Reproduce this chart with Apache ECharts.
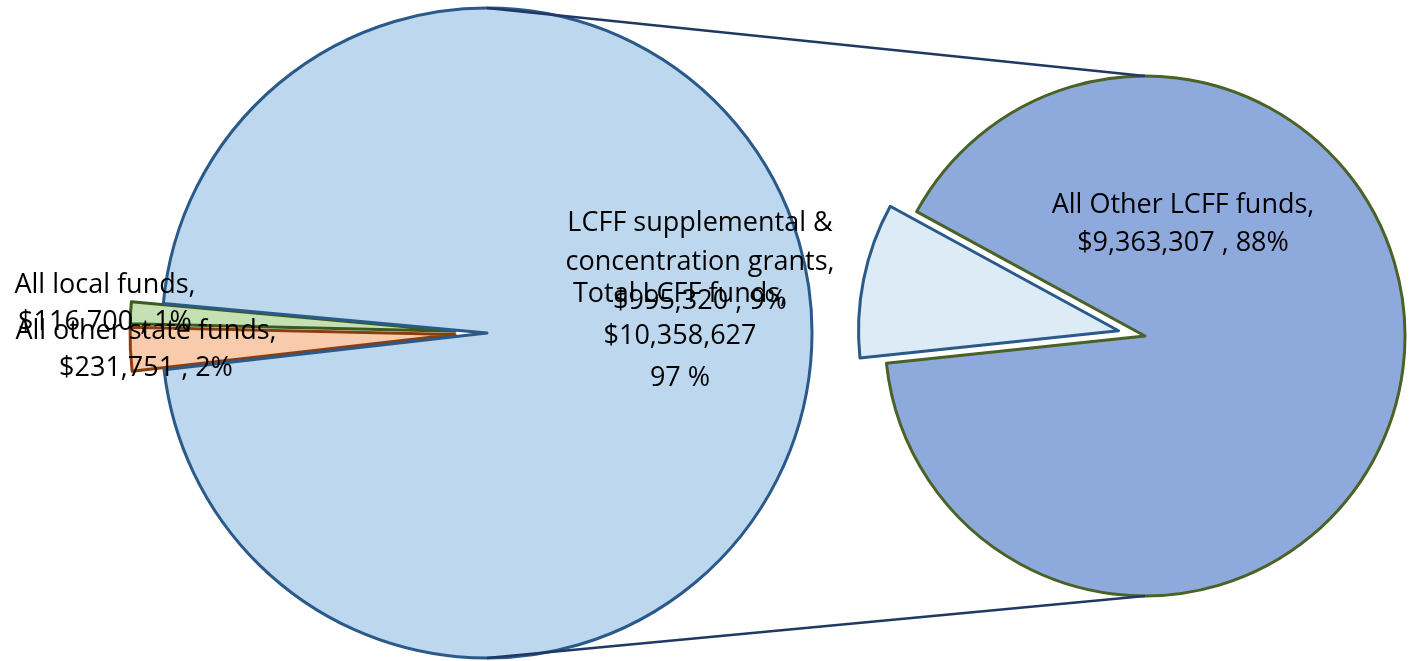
<!DOCTYPE html>
<html>
<head>
<meta charset="utf-8">
<script src="https://cdn.jsdelivr.net/npm/echarts@6/dist/echarts.min.js"></script>
<style>html,body{margin:0;padding:0;background:#fff}#c{width:1410px;height:661px}</style>
</head>
<body>
<div id="c"></div>
<script>
// Main pie data
var mainNames = ['All other state funds', 'All local funds', 'Total LCFF funds'];
var mainValues = [231751, 116700, 10358627];
var mainPct = ['2%', '1%', '97 %'];
// Secondary pie (breakdown of Total LCFF funds)
var subNames = ['LCFF supplemental & concentration grants', 'All Other LCFF funds'];
var subValues = [995320, 9363307];
var subPct = ['9%', '88%'];

var FONT = 'Open Sans';
var FS = 27;
function fmt(v){ return '$' + v.toLocaleString('en-US'); }

var mainStyles = [
  {color:'#F8CBAD', borderColor:'#8A3E0E'},
  {color:'#C5E0B3', borderColor:'#3B5A1E'},
  {color:'#BDD7EE', borderColor:'#2A5A8A'}
];
var subStyles = [
  {color:'#DDEBF7', borderColor:'#2A5A8A'},
  {color:'#8EA9DB', borderColor:'#4A6226'}
];

var mainText = [
  'All other state funds,\n' + fmt(mainValues[0]) + ' , ' + mainPct[0],
  'All local funds,\n' + fmt(mainValues[1]) + ' , ' + mainPct[1],
  'Total LCFF funds,\n' + fmt(mainValues[2]) + '\n' + mainPct[2]
];
var subText = [
  'LCFF supplemental &\nconcentration grants,\n' + fmt(subValues[0]) + ' , ' + subPct[0],
  'All Other LCFF funds,\n' + fmt(subValues[1]) + ' , ' + subPct[1]
];

// label anchor positions (layout only): [x, y, lineHeight]
var mainLabelPos = [[146, 350, 37], [105, 304, 37], [680, 336, 42]];
var subLabelPos = [[700, 262, 39], [1183, 224, 38]];

var C1 = [487, 333], R1 = 325;
var C2 = [1145, 336], R2 = 260;

var mainData = mainNames.map(function(n, i){
  return {name:n, value:mainValues[i], selected: i < 2,
    itemStyle:{color:mainStyles[i].color, borderColor:mainStyles[i].borderColor, borderWidth:3}};
});
var subData = subNames.map(function(n, i){
  return {name:n, value:subValues[i], selected: i === 0,
    itemStyle:{color:subStyles[i].color, borderColor:subStyles[i].borderColor, borderWidth:3}};
});

function textEl(txt, p){
  return {type:'text', z:10, x:p[0], y:p[1],
    style:{text:txt, fill:'#000', fontSize:FS, fontFamily:FONT,
      lineHeight:p[2], align:'center', verticalAlign:'middle'}};
}

var graphics = [
  {type:'line', z:5, shape:{x1:C1[0], y1:C1[1]-R1, x2:C2[0], y2:C2[1]-R2}, style:{stroke:'#1F3864', lineWidth:2.5}},
  {type:'line', z:5, shape:{x1:C1[0], y1:C1[1]+R1, x2:C2[0], y2:C2[1]+R2}, style:{stroke:'#1F3864', lineWidth:2.5}}
];
mainText.forEach(function(t, i){ graphics.push(textEl(t, mainLabelPos[i])); });
subText.forEach(function(t, i){ graphics.push(textEl(t, subLabelPos[i])); });

var chart = echarts.init(document.getElementById('c'));
chart.setOption({
  animation:false,
  backgroundColor:'#fff',
  series:[
    {
      type:'pie', name:'main', center:C1, radius:R1, startAngle:186.5, clockwise:true,
      selectedMode:'multiple', selectedOffset:32, avoidLabelOverlap:false, silent:true,
      emphasis:{disabled:true}, z:2, label:{show:false}, labelLine:{show:false},
      data:mainData
    },
    {
      type:'pie', name:'sub', center:C2, radius:R2, startAngle:186, clockwise:true,
      selectedMode:'multiple', selectedOffset:27, avoidLabelOverlap:false, silent:true,
      emphasis:{disabled:true}, z:2, label:{show:false}, labelLine:{show:false},
      data:subData
    }
  ],
  graphic:graphics
});
</script>
</body>
</html>
